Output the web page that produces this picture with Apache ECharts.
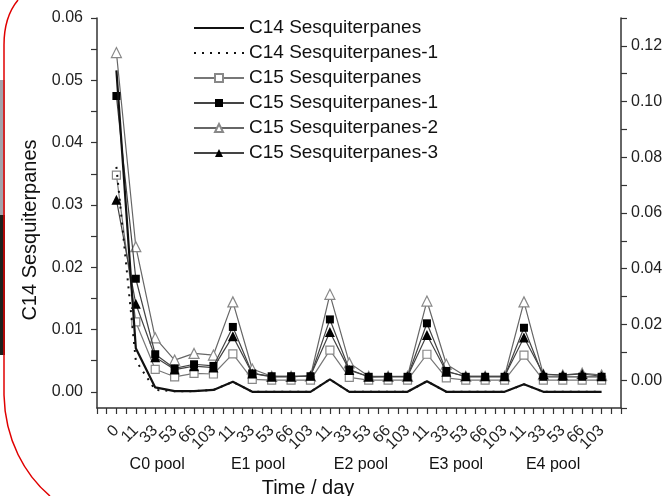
<!DOCTYPE html>
<html><head><meta charset="utf-8">
<script src="https://cdn.jsdelivr.net/npm/echarts@6/dist/echarts.min.js"></script>
<style>html,body{margin:0;padding:0;background:#fff}#c{width:667px;height:496px}</style>
</head><body><div id="c"></div><script>
// x categories (days within each pool)
const xLabels = ['0','11','33','53','66','103',
  '11','33','53','66','103',
  '11','33','53','66','103',
  '11','33','53','66','103',
  '11','33','53','66','103'];
const poolNames = ['C0 pool','E1 pool','E2 pool','E3 pool','E4 pool'];
const poolCenters = [2.1, 7.3, 12.6, 17.5, 22.5];

const leftTicks = [0,0.01,0.02,0.03,0.04,0.05,0.06];
const leftMinorTicks = [0,0.005,0.01,0.015,0.02,0.025,0.03,0.035,0.04,0.045,0.05,0.055,0.06];

// left axis series
const c14 = [0.0516,0.0070,0.0007,0.0001,0.0001,0.0003,
  0.0016,0,0,0,0,
  0.0020,0,0,0,0,
  0.0017,0,0,0,0,
  0.0012,0,0,0,0];
const c14_1 = [0.0361,0.0050,0.0003,0.0001,0.0001,0.0003,
  0.0016,0,0,0,0,
  0.0020,0,0,0,0,
  0.0017,0,0,0,0,
  0.0012,0,0,0,0];
// right axis series
const c15 = [0.0736,0.0209,0.0039,0.0012,0.0024,0.0022,
  0.0094,0.0003,0.0000,0.0000,0.0000,
  0.0108,0.0010,0.0000,0.0000,0.0000,
  0.0093,0.0008,0.0000,0.0000,0.0000,
  0.0090,0.0000,0.0000,0.0000,0.0000];
const c15_1 = [0.1020,0.0364,0.0093,0.0042,0.0057,0.0051,
  0.0191,0.0024,0.0014,0.0014,0.0014,
  0.0218,0.0038,0.0012,0.0012,0.0012,
  0.0204,0.0033,0.0012,0.0012,0.0012,
  0.0188,0.0012,0.0012,0.0012,0.0012];
const c15_2 = [0.1176,0.0479,0.0152,0.0072,0.0096,0.0090,
  0.0281,0.0040,0.0014,0.0014,0.0014,
  0.0308,0.0062,0.0014,0.0014,0.0014,
  0.0284,0.0057,0.0014,0.0014,0.0014,
  0.0281,0.0020,0.0018,0.0025,0.0018];
const c15_3 = [0.0648,0.0274,0.0082,0.0038,0.0050,0.0045,
  0.0158,0.0024,0.0012,0.0012,0.0016,
  0.0173,0.0036,0.0012,0.0013,0.0013,
  0.0162,0.0030,0.0014,0.0014,0.0014,
  0.0153,0.0022,0.0018,0.0022,0.0014];

const pairs = arr => arr.map((v,i)=>[i,v]);
const FONT = 'Liberation Sans, Arial, sans-serif';
const axisCol = '#333';
const clear = 'rgba(0,0,0,0)';

const chart = echarts.init(document.getElementById('c'), null, {renderer:'canvas'});
const option = {
  animation:false,
  backgroundColor:'#fff',
  grid:{left:97,right:46,top:18,bottom:88},
  legend:{
    orient:'vertical', left:188, top:13, itemWidth:50, itemHeight:10, itemGap:5,
    textStyle:{fontFamily:FONT,fontSize:19,color:'#111',lineHeight:20},
    data:['C14 Sesquiterpanes','C14 Sesquiterpanes-1','C15 Sesquiterpanes','C15 Sesquiterpanes-1','C15 Sesquiterpanes-2','C15 Sesquiterpanes-3']
  },
  xAxis:{
    type:'value', min:-1, max:26, interval:1,
    axisLine:{show:true,onZero:false,lineStyle:{color:axisCol,width:1.5}},
    axisTick:{show:true,length:6,lineStyle:{color:axisCol,width:1.2}},
    minorTick:{show:true,splitNumber:2,length:6,lineStyle:{color:axisCol,width:1.2}},
    splitLine:{show:false},
    axisLabel:{rotate:45,margin:20,fontFamily:FONT,fontSize:16,color:'#222',
      formatter:v=>{const i=Math.round(v);return (i>=0&&i<xLabels.length)?xLabels[i]:'';}}
  },
  yAxis:[{
    type:'value', min:-0.0026, max:0.06, position:'left',
    axisLine:{show:true,onZero:false,lineStyle:{color:axisCol,width:1.5}},
    axisTick:{show:true,length:6,customValues:leftMinorTicks,lineStyle:{color:axisCol,width:1.2}},
    splitLine:{show:false},
    axisLabel:{customValues:leftTicks,margin:14,fontFamily:FONT,fontSize:16,color:'#222',formatter:v=>v.toFixed(2)}
  },{
    type:'value', min:-0.01, max:0.13, interval:0.01, position:'right',
    axisLine:{show:true,onZero:false,lineStyle:{color:axisCol,width:1.5}},
    axisTick:{show:true,length:6,lineStyle:{color:axisCol,width:1.2}},
    splitLine:{show:false},
    axisLabel:{margin:10,fontFamily:FONT,fontSize:16,color:'#222',
      formatter:v=>{const k=Math.round(v*100);return (k>=0&&k<=12&&k%2===0)?v.toFixed(2):'';}}
  }],
  series:[
    {name:'C15 Sesquiterpanes-2',type:'line',yAxisIndex:1,data:pairs(c15_2),symbol:'triangle',symbolSize:10,
      lineStyle:{color:'#666',width:1.2},itemStyle:{color:'#fff',borderColor:'#888',borderWidth:1.2},z:2},
    {name:'C15 Sesquiterpanes',type:'line',yAxisIndex:1,data:pairs(c15),symbol:'rect',symbolSize:8,
      lineStyle:{color:'#777',width:1.2},itemStyle:{color:'#fff',borderColor:'#888',borderWidth:1.2},z:3},
    {name:'C15 Sesquiterpanes-3',type:'line',yAxisIndex:1,data:pairs(c15_3),symbol:'triangle',symbolSize:10,
      lineStyle:{color:'#444',width:1.2},itemStyle:{color:'#000',borderColor:'#000',borderWidth:0},z:4},
    {name:'C15 Sesquiterpanes-1',type:'line',yAxisIndex:1,data:pairs(c15_1),symbol:'rect',symbolSize:8,
      lineStyle:{color:'#444',width:1.2},itemStyle:{color:'#000',borderColor:'#000',borderWidth:0},z:5},
    {name:'C14 Sesquiterpanes-1',type:'line',yAxisIndex:0,data:pairs(c14_1),symbol:'none',
      lineStyle:{color:'#111',width:2,type:[2,6]},itemStyle:{color:clear,borderColor:clear},z:6},
    {name:'C14 Sesquiterpanes',type:'line',yAxisIndex:0,data:pairs(c14),symbol:'none',
      lineStyle:{color:'#111',width:2.2},itemStyle:{color:clear,borderColor:clear},z:7}
  ]
};
chart.setOption(option);

const gfx = [
  {type:'rect',shape:{x:0,y:80,width:5,height:135},style:{fill:'#a2a3ab'},silent:true},
  {type:'rect',shape:{x:0,y:215,width:5,height:140},style:{fill:'#1d211d'},silent:true},
  {type:'bezierCurve',shape:{x1:18,y1:0,cpx1:8,cpy1:12,cpx2:4,cpy2:28,x2:4,y2:45},
    style:{fill:null,stroke:'#e00000',lineWidth:1.5},silent:true},
  {type:'line',shape:{x1:4,y1:45,x2:4,y2:395},style:{stroke:'#e00000',lineWidth:1.5},silent:true},
  {type:'bezierCurve',shape:{x1:4,y1:395,cpx1:5,cpy1:440,cpx2:25,cpy2:475,x2:50,y2:496},
    style:{fill:null,stroke:'#e00000',lineWidth:1.5},silent:true},
  {type:'text',x:30,y:230,rotation:Math.PI/2,
    style:{text:'C14 Sesquiterpanes',font:'20px '+FONT,fill:'#111',align:'center',verticalAlign:'middle'}},
  {type:'text',x:308,y:488,
    style:{text:'Time / day',font:'20px '+FONT,fill:'#111',align:'center',verticalAlign:'middle'}}
];
poolNames.forEach((n,k)=>{
  const px = chart.convertToPixel({xAxisIndex:0},poolCenters[k]);
  gfx.push({type:'text',x:px,y:465,style:{text:n,font:'16px '+FONT,fill:'#111',align:'center',verticalAlign:'middle'}});
});
chart.setOption({graphic:gfx});
</script></body></html>
